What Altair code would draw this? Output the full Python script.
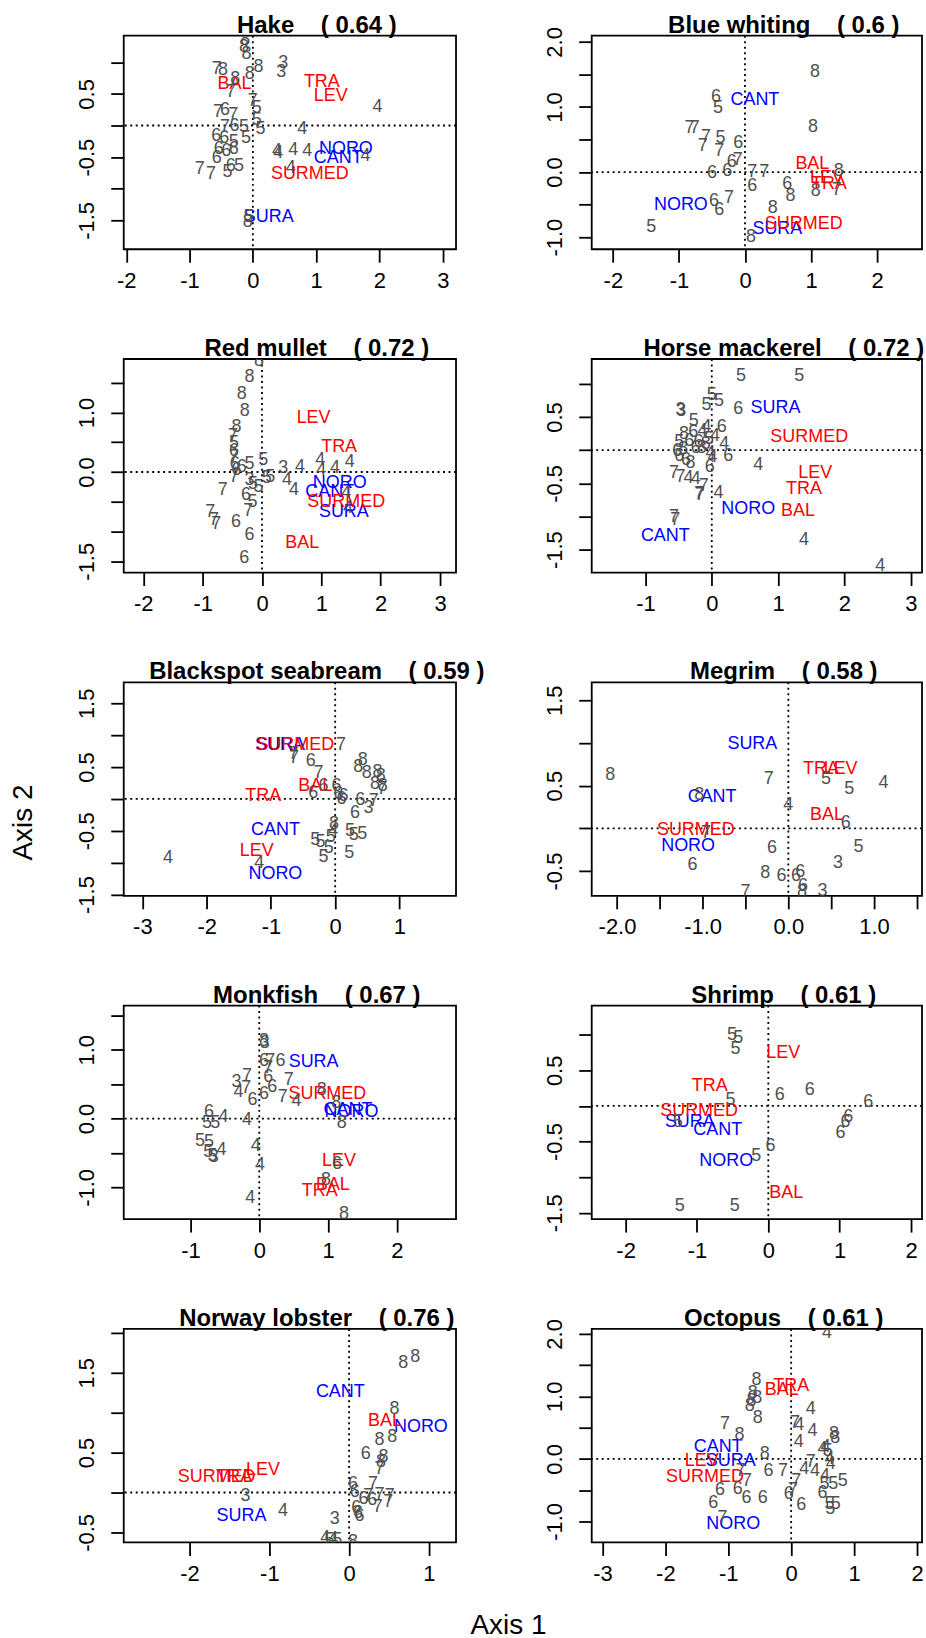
import altair as alt
import pandas as pd

FONT = "Liberation Sans, Arial, Helvetica, sans-serif"
DIGIT_COLOR = "#505050"
MED_COLOR = "#ff0000"
ATL_COLOR = "#0000ff"

REGIONS = ["BAL", "TRA", "LEV", "SURMED", "NORO", "CANT", "SURA"]
REGION_GROUP = ["Med", "Med", "Med", "Med", "Atl", "Atl", "Atl"]

# ---------------- Hake (0.64)
HAKE_LAB = [8, 8, 8, 7, 8, 8, 8, 3, 3, 8, 7, 4, 7, 5, 7, 6, 7, 5, 5, 7, 6, 5, 4, 6, 6, 5, 5, 6, 6, 6, 4, 4, 4, 4, 4, 6, 6, 5, 7, 7, 5, 4, 5, 8]
HAKE_X = [-0.12, -0.14, -0.10, -0.57, -0.47, 0.09, -0.05, 0.48, 0.45, -0.28, -0.35, 1.97, 0.00, 0.06, -0.55, -0.44, -0.31, 0.06, 0.12, -0.44, -0.29, -0.14, 0.78, -0.58, -0.45, -0.30, -0.11, -0.54, -0.42, -0.30, 0.38, 0.40, 0.64, 0.86, 1.78, -0.57, -0.35, -0.22, -0.84, -0.66, -0.40, 0.60, -0.07, -0.08]
HAKE_Y = [1.35, 1.24, 1.13, 0.89, 0.87, 0.92, 0.81, 0.99, 0.85, 0.74, 0.53, 0.30, 0.38, 0.28, 0.21, 0.25, 0.16, 0.09, -0.05, -0.02, 0.00, -0.03, -0.05, -0.16, -0.19, -0.26, -0.19, -0.37, -0.40, -0.37, -0.40, -0.44, -0.38, -0.40, -0.49, -0.52, -0.64, -0.64, -0.69, -0.77, -0.73, -0.67, -1.44, -1.53]
HAKE_RX = [-0.29, 1.09, 1.23, 0.90, 1.47, 1.35, 0.25]
HAKE_RY = [0.65, 0.68, 0.47, -0.77, -0.37, -0.51, -1.45]

# ---------------- Blue whiting (0.6)
BW_LAB = [8, 6, 5, 8, 7, 7, 7, 5, 6, 7, 7, 6, 7, 6, 6, 7, 7, 8, 7, 6, 8, 6, 8, 6, 7, 6, 8, 5, 8]
BW_X = [1.06, -0.44, -0.41, 1.03, -0.84, -0.76, -0.59, -0.37, -0.10, -0.64, -0.39, -0.20, -0.11, -0.50, -0.27, 0.11, 0.29, 1.42, 1.39, 0.64, 1.07, 0.11, 0.69, -0.47, -0.24, -0.39, 0.42, -1.42, 0.09]
BW_Y = [1.53, 1.15, 0.98, 0.70, 0.67, 0.67, 0.54, 0.52, 0.44, 0.40, 0.32, 0.16, 0.19, -0.02, 0.02, 0.00, 0.00, 0.01, -0.27, -0.19, -0.29, -0.22, -0.37, -0.44, -0.40, -0.58, -0.55, -0.85, -1.00]
BW_RX = [1.02, 1.27, 1.24, 0.89, -0.97, 0.15, 0.49]
BW_RY = [0.12, -0.18, -0.09, -0.79, -0.50, 1.10, -0.88]

# ---------------- Red mullet (0.72)
RM_LAB = [8, 8, 8, 8, 8, 7, 5, 6, 7, 6, 6, 5, 5, 6, 7, 3, 5, 5, 5, 5, 3, 4, 4, 4, 4, 4, 4, 4, 7, 6, 5, 7, 7, 7, 7, 6, 6, 6, 4, 4]
RM_X = [-0.05, -0.21, -0.34, -0.29, -0.43, -0.49, -0.47, -0.47, -0.47, -0.46, -0.43, -0.21, 0.02, -0.34, -0.47, -0.21, -0.15, -0.06, 0.14, 0.08, 0.36, 0.64, 0.98, 1.00, 1.23, 1.48, 0.42, 0.54, -0.66, -0.27, -0.16, -0.23, -0.87, -0.81, -0.77, -0.44, -0.21, -0.30, 1.42, 1.45]
RM_Y = [1.86, 1.59, 1.31, 1.02, 0.75, 0.61, 0.49, 0.36, 0.25, 0.13, 0.04, 0.13, 0.21, 0.08, -0.08, -0.14, -0.20, -0.25, -0.08, -0.10, 0.06, 0.08, 0.20, 0.04, 0.06, 0.17, -0.13, -0.30, -0.30, -0.39, -0.50, -0.65, -0.67, -0.81, -0.88, -0.84, -1.06, -1.45, -0.36, -0.61]
RM_RX = [0.68, 1.30, 0.87, 1.42, 1.31, 1.14, 1.38]
RM_RY = [-1.19, 0.42, 0.91, -0.50, -0.18, -0.34, -0.67]

# ---------------- Horse mackerel (0.72)
HM_LAB = [5, 5, 5, 5, 5, 6, 3, 3, 5, 4, 6, 8, 6, 4, 4, 5, 6, 6, 8, 5, 4, 6, 8, 6, 8, 4, 6, 6, 6, 8, 4, 6, 4, 7, 7, 4, 4, 7, 7, 7, 4, 7, 7, 4, 4]
HM_X = [0.44, 1.32, 0.00, 0.11, -0.08, 0.40, -0.47, -0.46, -0.27, -0.08, 0.15, -0.42, -0.28, -0.14, 0.05, -0.49, -0.34, -0.20, -0.09, -0.04, 0.19, -0.52, -0.43, -0.24, -0.15, -0.02, 0.25, -0.49, -0.39, -0.32, 0.01, -0.03, 0.70, -0.57, -0.47, -0.35, -0.24, -0.12, -0.19, -0.18, 0.10, -0.57, -0.55, 1.39, 2.54]
HM_Y = [1.12, 1.12, 0.83, 0.74, 0.68, 0.62, 0.61, 0.59, 0.44, 0.35, 0.35, 0.24, 0.27, 0.29, 0.22, 0.12, 0.14, 0.12, 0.09, 0.17, 0.09, -0.02, 0.02, 0.04, 0.04, -0.04, -0.09, -0.09, -0.15, -0.19, -0.11, -0.25, -0.22, -0.35, -0.41, -0.42, -0.44, -0.54, -0.66, -0.68, -0.64, -1.01, -1.05, -1.35, -1.75]
HM_RX = [1.30, 1.39, 1.56, 1.47, 0.55, -0.70, 0.96]
HM_RY = [-0.91, -0.59, -0.34, 0.20, -0.89, -1.30, 0.63]

# ---------------- Blackspot seabream (0.59)
BS_LAB = [7, 7, 7, 6, 7, 6, 6, 6, 6, 6, 6, 8, 8, 8, 8, 8, 8, 8, 7, 6, 7, 3, 6, 4, 4, 8, 4, 5, 5, 5, 5, 5, 5, 5, 5, 5]
BS_X = [0.09, -0.65, -0.64, -0.38, -0.26, -0.34, -0.18, 0.02, 0.05, 0.13, 0.10, 0.43, 0.36, 0.49, 0.66, 0.71, 0.62, 0.74, 0.73, 0.39, 0.60, 0.52, 0.31, -1.18, -2.60, -0.02, -0.03, -0.07, -0.31, -0.23, -0.10, -0.18, 0.23, 0.29, 0.42, 0.22]
BS_Y = [0.85, 0.70, 0.64, 0.59, 0.41, 0.09, 0.20, 0.20, 0.07, 0.04, 0.00, 0.61, 0.50, 0.41, 0.42, 0.36, 0.24, 0.20, 0.15, -0.01, -0.04, -0.14, -0.22, -1.00, -0.93, -0.40, -0.51, -0.59, -0.65, -0.67, -0.77, -0.91, -0.51, -0.56, -0.55, -0.85]
BS_RX = [-0.31, -1.12, -1.22, -0.62, -0.93, -0.93, -0.86]
BS_RY = [0.21, 0.05, -0.81, 0.85, -1.17, -0.48, 0.85]

# ---------------- Megrim (0.58)
MG_LAB = [8, 7, 4, 8, 7, 6, 6, 8, 6, 6, 6, 6, 8, 3, 7, 3, 5, 6, 5, 4, 5]
MG_X = [-2.08, -0.23, 0.00, -1.04, -0.96, -1.12, -0.19, -0.27, -0.08, 0.09, 0.14, 0.17, 0.16, 0.40, -0.50, 0.58, 0.82, 0.67, 0.71, 1.11, 0.44]
MG_Y = [0.62, 0.58, 0.27, 0.39, -0.06, -0.43, -0.23, -0.52, -0.56, -0.56, -0.51, -0.68, -0.74, -0.73, -0.75, -0.40, -0.22, 0.06, 0.46, 0.53, 0.58]
MG_RX = [0.45, 0.38, 0.61, -1.08, -1.17, -0.89, -0.42]
MG_RY = [0.16, 0.69, 0.70, -0.02, -0.21, 0.37, 0.99]

# ---------------- Monkfish (0.67)
MK_LAB = [8, 3, 6, 7, 6, 7, 7, 3, 6, 7, 4, 7, 6, 6, 6, 7, 4, 8, 8, 8, 6, 4, 5, 5, 4, 5, 5, 4, 5, 5, 3, 4, 4, 4, 6, 8, 8]
MK_X = [0.07, 0.08, 0.07, 0.16, 0.31, 0.13, -0.18, -0.33, 0.13, 0.43, -0.30, -0.19, 0.19, 0.07, -0.10, 0.34, 0.54, 0.91, 1.12, 1.20, -0.73, -0.52, -0.76, -0.64, -0.18, -0.86, -0.73, -0.55, -0.74, -0.68, -0.66, -0.05, 0.01, -0.13, 1.13, 0.97, 1.23]
MK_Y = [1.13, 1.10, 0.84, 0.84, 0.84, 0.73, 0.62, 0.53, 0.61, 0.56, 0.38, 0.44, 0.46, 0.35, 0.27, 0.32, 0.25, 0.42, 0.22, -0.06, 0.09, 0.02, -0.07, -0.07, -0.02, -0.32, -0.34, -0.46, -0.48, -0.54, -0.56, -0.40, -0.68, -1.16, -0.66, -0.89, -1.39]
MK_RX = [1.07, 0.88, 1.16, 0.99, 1.34, 1.29, 0.79]
MK_RY = [-0.97, -1.05, -0.61, 0.35, 0.10, 0.12, 0.82]

# ---------------- Shrimp (0.61)
SH_LAB = [5, 5, 5, 6, 6, 5, 6, 5, 6, 6, 6, 6, 5, 5, 5]
SH_X = [-0.51, -0.42, -0.46, 0.16, 0.58, -0.53, 1.40, -1.27, 1.12, 1.08, 1.01, 0.03, -0.17, -1.24, -0.47]
SH_Y = [0.99, 0.96, 0.80, 0.15, 0.22, 0.09, 0.05, -0.23, -0.15, -0.23, -0.38, -0.56, -0.70, -1.40, -1.40]
SH_RX = [0.25, -0.82, 0.21, -0.97, -0.59, -0.71, -1.10]
SH_RY = [-1.22, 0.28, 0.74, -0.07, -0.78, -0.34, -0.23]

# ---------------- Norway lobster (0.76)
NL_LAB = [8, 8, 8, 8, 8, 6, 8, 8, 7, 3, 4, 6, 7, 6, 6, 7, 6, 7, 7, 7, 7, 6, 6, 6, 3, 4, 5, 4, 5, 8]
NL_X = [0.68, 0.83, 0.57, 0.38, 0.54, 0.21, 0.43, 0.40, 0.38, -1.30, -0.83, 0.05, 0.30, 0.07, 0.18, 0.24, 0.29, 0.38, 0.51, 0.49, 0.36, 0.09, 0.11, 0.13, -0.18, -0.30, -0.25, -0.20, -0.15, 0.05]
NL_Y = [1.62, 1.70, 1.05, 0.66, 0.69, 0.48, 0.45, 0.38, 0.30, -0.05, -0.23, 0.11, 0.10, 0.00, -0.08, -0.05, -0.10, -0.03, -0.05, -0.12, -0.18, -0.20, -0.26, -0.30, -0.33, -0.57, -0.60, -0.58, -0.60, -0.62]
NL_RX = [0.45, -1.44, -1.08, -1.66, 0.90, -0.11, -1.35]
NL_RY = [0.89, 0.20, 0.28, 0.20, 0.82, 1.26, -0.29]

# ---------------- Octopus (0.61)
OC_LAB = [4, 8, 8, 8, 8, 8, 8, 7, 4, 7, 4, 4, 8, 4, 8, 8, 4, 4, 5, 8, 4, 4, 7, 4, 4, 7, 6, 7, 4, 5, 5, 5, 7, 7, 6, 6, 6, 6, 6, 7, 6, 6, 6, 5, 5, 5, 7]
OC_X = [0.57, -0.55, -0.61, -0.54, -0.63, -0.66, -0.53, -1.05, 0.31, 0.06, 0.13, 0.34, -0.82, 0.12, 0.68, 0.70, 0.50, 0.55, 0.58, -0.42, 0.61, 0.63, 0.31, 0.21, 0.38, -0.80, -0.36, -0.13, 0.54, 0.53, 0.67, 0.82, -0.70, 0.08, -1.13, -0.85, -0.71, -0.45, -0.04, 0.03, 0.50, -1.24, 0.16, 0.61, 0.71, 0.62, -1.09]
OC_Y = [2.02, 1.26, 1.06, 0.98, 0.93, 0.84, 0.65, 0.56, 0.80, 0.58, 0.54, 0.45, 0.38, 0.27, 0.40, 0.33, 0.16, 0.19, 0.13, 0.08, 0.00, -0.08, -0.05, -0.16, -0.20, -0.19, -0.19, -0.19, -0.27, -0.40, -0.40, -0.36, -0.36, -0.36, -0.50, -0.49, -0.63, -0.63, -0.56, -0.50, -0.54, -0.70, -0.74, -0.72, -0.73, -0.80, -0.94]
OC_RX = [-0.15, 0.00, -1.42, -1.37, -0.92, -1.16, -0.96]
OC_RY = [1.11, 1.17, -0.03, -0.29, -1.05, 0.19, -0.03]

# ---------------- axis ticks and labels per panel
INT_TICKS_A = [-2, -1, 0, 1, 2, 3]
INT_LABELS_A = ["-2", "-1", "0", "1", "2", "3"]

PANELS = [
    dict(title="Hake", score="0.64", lab=HAKE_LAB, x=HAKE_X, y=HAKE_Y, rx=HAKE_RX, ry=HAKE_RY,
         xdom=[-2.04, 3.21], ydom=[-1.956, 1.42],
         xt=INT_TICKS_A, xl=INT_LABELS_A,
         yt=[-1.5, -1.0, -0.5, 0.0, 0.5, 1.0], yl=["-1.5", "", "-0.5", "", "0.5", ""]),
    dict(title="Blue whiting", score="0.6", lab=BW_LAB, x=BW_X, y=BW_Y, rx=BW_RX, ry=BW_RY,
         xdom=[-2.32, 2.68], ydom=[-1.185, 2.095],
         xt=[-2, -1, 0, 1, 2], xl=["-2", "-1", "0", "1", "2"],
         yt=[-1.0, -0.5, 0.0, 0.5, 1.0, 1.5, 2.0], yl=["-1.0", "", "0.0", "", "1.0", "", "2.0"]),
    dict(title="Red mullet", score="0.72", lab=RM_LAB, x=RM_X, y=RM_Y, rx=RM_RX, ry=RM_RY,
         xdom=[-2.33, 3.27], ydom=[-1.69, 1.90],
         xt=INT_TICKS_A, xl=INT_LABELS_A,
         yt=[-1.5, -1.0, -0.5, 0.0, 0.5, 1.0, 1.5], yl=["-1.5", "", "", "0.0", "", "1.0", ""]),
    dict(title="Horse mackerel", score="0.72", lab=HM_LAB, x=HM_X, y=HM_Y, rx=HM_RX, ry=HM_RY,
         xdom=[-1.81, 3.17], ydom=[-1.845, 1.375],
         xt=[-1, 0, 1, 2, 3], xl=["-1", "0", "1", "2", "3"],
         yt=[-1.5, -1.0, -0.5, 0.0, 0.5, 1.0], yl=["-1.5", "", "-0.5", "", "0.5", ""]),
    dict(title="Blackspot seabream", score="0.59", lab=BS_LAB, x=BS_X, y=BS_Y, rx=BS_RX, ry=BS_RY,
         xdom=[-3.29, 1.88], ydom=[-1.52, 1.83],
         xt=[-3, -2, -1, 0, 1], xl=["-3", "-2", "-1", "0", "1"],
         yt=[-1.5, -1.0, -0.5, 0.0, 0.5, 1.0, 1.5], yl=["-1.5", "", "-0.5", "", "0.5", "", "1.5"]),
    dict(title="Megrim", score="0.58", lab=MG_LAB, x=MG_X, y=MG_Y, rx=MG_RX, ry=MG_RY,
         xdom=[-2.295, 1.56], ydom=[-0.79, 1.71],
         xt=[-2.0, -1.5, -1.0, -0.5, 0.0, 0.5, 1.0, 1.5], xl=["-2.0", "", "-1.0", "", "0.0", "", "1.0", ""],
         yt=[-0.5, 0.0, 0.5, 1.0, 1.5], yl=["-0.5", "", "0.5", "", "1.5"]),
    dict(title="Monkfish", score="0.67", lab=MK_LAB, x=MK_X, y=MK_Y, rx=MK_RX, ry=MK_RY,
         xdom=[-1.97, 2.86], ydom=[-1.46, 1.64],
         xt=[-1, 0, 1, 2], xl=["-1", "0", "1", "2"],
         yt=[-1.0, -0.5, 0.0, 0.5, 1.0, 1.5], yl=["-1.0", "", "0.0", "", "1.0", ""]),
    dict(title="Shrimp", score="0.61", lab=SH_LAB, x=SH_X, y=SH_Y, rx=SH_RX, ry=SH_RY,
         xdom=[-2.475, 2.154], ydom=[-1.59, 1.41],
         xt=[-2, -1, 0, 1, 2], xl=["-2", "-1", "0", "1", "2"],
         yt=[-1.5, -1.0, -0.5, 0.0, 0.5, 1.0], yl=["-1.5", "", "-0.5", "", "0.5", ""]),
    dict(title="Norway lobster", score="0.76", lab=NL_LAB, x=NL_X, y=NL_Y, rx=NL_RX, ry=NL_RY,
         xdom=[-2.825, 1.34], ydom=[-0.626, 2.05],
         xt=[-2, -1, 0, 1], xl=["-2", "-1", "0", "1"],
         yt=[-0.5, 0.0, 0.5, 1.0, 1.5, 2.0], yl=["-0.5", "", "0.5", "", "1.5", ""]),
    dict(title="Octopus", score="0.61", lab=OC_LAB, x=OC_X, y=OC_Y, rx=OC_RX, ry=OC_RY,
         xdom=[-3.17, 2.08], ydom=[-1.337, 2.08],
         xt=[-3, -2, -1, 0, 1, 2], xl=["-3", "-2", "-1", "0", "1", "2"],
         yt=[-1.0, -0.5, 0.0, 0.5, 1.0, 1.5, 2.0], yl=["-1.0", "", "0.0", "", "1.0", "", "2.0"]),
]

TICK_FS = 22
TEXT_FS = 18
TITLE_FS = 24
LINE_W = 1.8
H = 214
W_LEFT = 333
W_RIGHT = 331


def label_expr(values, labels):
    parts = [f"datum.value == {v} ? '{s}'" for v, s in zip(values, labels) if s]
    return " : ".join(parts) + " : ''"


def make_panel(i, p):
    width = W_LEFT if i % 2 == 0 else W_RIGHT
    xs = alt.Scale(domain=p["xdom"], nice=False, zero=False)
    ys = alt.Scale(domain=p["ydom"], nice=False, zero=False)

    xkw = dict(values=p["xt"], labelExpr=label_expr(p["xt"], p["xl"]),
               labelOverlap=False, labelFlush=False, labelPadding=8,
               labelAngle=0, labelAlign="center", labelBaseline="top")
    ykw = dict(values=p["yt"], labelExpr=label_expr(p["yt"], p["yl"]),
               labelOverlap=False, labelFlush=False, labelPadding=17,
               labelAngle=270, labelAlign="center", labelBaseline="alphabetic")
    if i == 8:
        xkw.update(title="Axis 1", titleX=385, titleY=91, titleAngle=0,
                   titleAlign="center", titleBaseline="alphabetic")
    else:
        xkw.update(title="")
    if i == 4:
        ykw.update(title="Axis 2", titleX=-100, titleY=140, titleAngle=270,
                   titleAlign="center", titleBaseline="middle")
    else:
        ykw.update(title="")

    X = alt.X("x:Q", scale=xs, axis=alt.Axis(**xkw))
    Y = alt.Y("y:Q", scale=ys, axis=alt.Axis(**ykw))

    vline = alt.Chart(pd.DataFrame({"x": [0.0]})).mark_rule(
        color="black", strokeDash=[2, 3.5], strokeWidth=LINE_W).encode(x=X)
    hline = alt.Chart(pd.DataFrame({"y": [0.0]})).mark_rule(
        color="black", strokeDash=[2, 3.5], strokeWidth=LINE_W).encode(y=Y)

    reg = pd.DataFrame({"x": p["rx"], "y": p["ry"], "lab": REGIONS, "grp": REGION_GROUP})
    atl = alt.Chart(reg[reg["grp"] == "Atl"]).mark_text(
        color=ATL_COLOR, font=FONT, fontSize=TEXT_FS, align="center", baseline="middle",
        clip=True).encode(x=X, y=Y, text="lab:N")
    med = alt.Chart(reg[reg["grp"] == "Med"]).mark_text(
        color=MED_COLOR, font=FONT, fontSize=TEXT_FS, align="center", baseline="middle",
        clip=True).encode(x=X, y=Y, text="lab:N")
    pts = alt.Chart(pd.DataFrame({"x": p["x"], "y": p["y"], "lab": [str(v) for v in p["lab"]]})).mark_text(
        color=DIGIT_COLOR, font=FONT, fontSize=TEXT_FS, align="center", baseline="middle",
        clip=True).encode(x=X, y=Y, text="lab:N")

    sp = "\u00a0"
    title_text = f"{p['title']}{sp * 4}({sp}{p['score']}{sp})"
    title = alt.Chart(pd.DataFrame({"t": [title_text]})).mark_text(
        font=FONT, fontSize=TITLE_FS, fontWeight="bold", color="black",
        align="center", baseline="alphabetic", clip=False).encode(
        text="t:N", x=alt.value(width / 2 + 27), y=alt.value(-3))

    layers = [vline, hline, atl, med, pts, title]
    if i == 0:
        anchor = alt.Chart(pd.DataFrame({"x": [0.0]})).mark_rule(
            color="white", strokeWidth=1, clip=False).encode(
            x=alt.value(-122.5), x2=alt.value(-121.5), y=alt.value(-32.5))
        layers.append(anchor)

    return alt.layer(*layers).properties(width=width, height=H)


panels = [make_panel(i, p) for i, p in enumerate(PANELS)]

chart = alt.concat(*panels, columns=2, spacing={"row": 110, "column": 136}, bounds="flush").properties(
    padding=0, background="white"
).configure_view(
    stroke="black", strokeWidth=LINE_W
).configure_axis(
    domain=False, grid=False, ticks=True, tickColor="black", tickWidth=LINE_W, tickSize=13,
    labelColor="black", labelFont=FONT, labelFontSize=TICK_FS,
    titleFont=FONT, titleFontSize=28, titleFontWeight="normal", titleColor="black"
)

chart.save("out.html", embed_options={"renderer": "svg", "actions": False})
